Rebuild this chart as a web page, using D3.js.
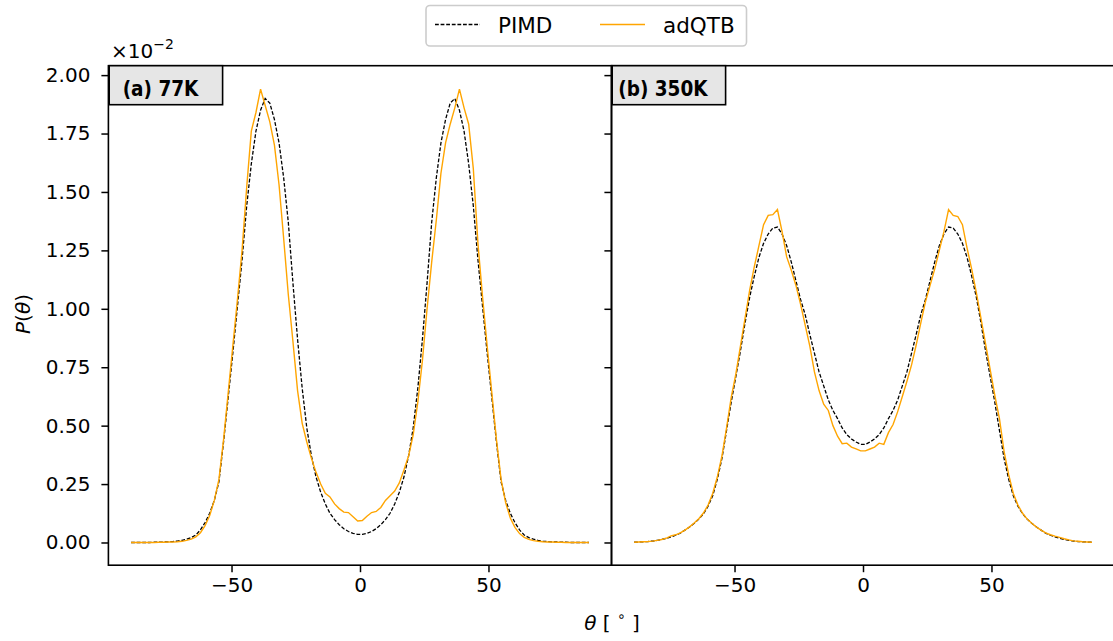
<!DOCTYPE html>
<html><head><meta charset="utf-8">
<script src="https://cdn.jsdelivr.net/npm/d3@7"></script>
<style>
body{margin:0;background:#fff}
svg{font-family:"DejaVu Sans",sans-serif}
</style>
</head><body>
<svg id="chart" width="1113" height="641"></svg>
<script>
// ---- data (values in units of 1e-2) ----
const theta = [-89.1,-87.3,-85.5,-83.7,-81.9,-80.1,-78.3,-76.5,-74.7,-72.9,-71.1,-69.3,-67.5,-65.7,-63.9,-62.1,-60.3,-58.5,-56.7,-54.9,-53.1,-51.3,-49.5,-47.7,-45.9,-44.1,-42.3,-40.5,-38.7,-36.9,-35.1,-33.3,-31.5,-29.7,-27.9,-26.1,-24.3,-22.5,-20.7,-18.9,-17.1,-15.3,-13.5,-11.7,-9.9,-8.1,-6.3,-4.5,-2.7,-0.9,0.9,2.7,4.5,6.3,8.1,9.9,11.7,13.5,15.3,17.1,18.9,20.7,22.5,24.3,26.1,27.9,29.7,31.5,33.3,35.1,36.9,38.7,40.5,42.3,44.1,45.9,47.7,49.5,51.3,53.1,54.9,56.7,58.5,60.3,62.1,63.9,65.7,67.5,69.3,71.1,72.9,74.7,76.5,78.3,80.1,81.9,83.7,85.5,87.3,89.1];

const pimd77 = [0,0,0,0,0,0.001,0.001,0.002,0.003,0.004,0.006,0.009,0.014,0.021,0.032,0.054,0.085,0.125,0.18,0.26,0.43,0.62,0.81,1.01,1.21,1.44,1.62,1.76,1.85,1.90,1.88,1.81,1.71,1.56,1.37,1.11,0.87,0.66,0.49,0.37,0.28,0.215,0.165,0.125,0.098,0.076,0.059,0.047,0.039,0.035,
0.035,0.039,0.047,0.059,0.076,0.098,0.125,0.165,0.215,0.28,0.37,0.49,0.66,0.87,1.11,1.37,1.56,1.71,1.81,1.88,1.90,1.85,1.76,1.62,1.44,1.21,1.01,0.81,0.62,0.43,0.26,0.18,0.125,0.085,0.054,0.032,0.021,0.014,0.009,0.006,0.004,0.003,0.002,0.001,0.001,0,0,0,0,0];

const adqtb77 = [0,0,0,0,0,0,0.001,0.001,0.002,0.002,0.003,0.005,0.009,0.014,0.024,0.042,0.072,0.115,0.18,0.27,0.44,0.64,0.84,1.04,1.25,1.52,1.76,1.84,1.94,1.87,1.80,1.70,1.53,1.30,1.06,0.86,0.65,0.51,0.43,0.36,0.30,0.25,0.21,0.195,0.165,0.145,0.13,0.128,0.11,0.092,
0.094,0.112,0.128,0.133,0.15,0.18,0.20,0.22,0.255,0.31,0.37,0.46,0.60,0.78,1.00,1.20,1.38,1.58,1.71,1.79,1.86,1.94,1.86,1.79,1.60,1.28,1.05,0.84,0.64,0.44,0.27,0.17,0.105,0.065,0.038,0.022,0.013,0.008,0.005,0.003,0.002,0.002,0.001,0.001,0,0,0,0,0,0];

const pimd350 = [0.001,0.002,0.003,0.004,0.006,0.009,0.013,0.018,0.024,0.031,0.040,0.053,0.066,0.082,0.100,0.123,0.155,0.20,0.27,0.36,0.48,0.60,0.71,0.82,0.94,1.05,1.14,1.22,1.28,1.32,1.345,1.35,1.32,1.27,1.20,1.12,1.04,0.975,0.89,0.81,0.73,0.67,0.61,0.565,0.53,0.49,0.462,0.443,0.43,0.42,
0.42,0.43,0.443,0.462,0.49,0.53,0.565,0.61,0.67,0.73,0.81,0.89,0.975,1.04,1.12,1.20,1.27,1.32,1.35,1.345,1.32,1.28,1.22,1.14,1.05,0.94,0.82,0.71,0.60,0.48,0.36,0.27,0.20,0.155,0.123,0.100,0.082,0.066,0.053,0.040,0.031,0.024,0.018,0.013,0.009,0.006,0.004,0.003,0.002,0.001];

const adqtb350 = [0.001,0.002,0.003,0.004,0.006,0.009,0.013,0.019,0.028,0.033,0.041,0.053,0.067,0.083,0.102,0.126,0.16,0.21,0.28,0.37,0.49,0.62,0.72,0.84,0.96,1.08,1.18,1.27,1.36,1.40,1.403,1.425,1.33,1.222,1.165,1.10,1.02,0.93,0.84,0.73,0.65,0.592,0.565,0.50,0.455,0.423,0.425,0.408,0.401,0.392,
0.392,0.400,0.408,0.425,0.42,0.47,0.505,0.56,0.625,0.69,0.76,0.845,0.94,1.03,1.10,1.17,1.25,1.33,1.425,1.40,1.395,1.36,1.26,1.17,1.07,0.96,0.85,0.74,0.63,0.53,0.39,0.29,0.21,0.16,0.125,0.10,0.082,0.066,0.053,0.041,0.033,0.027,0.022,0.016,0.011,0.007,0.005,0.003,0.002,0.001];

const xTicks = [-50, 0, 50];
const yTicks = [0, 0.25, 0.5, 0.75, 1.0, 1.25, 1.5, 1.75, 2.0];
const panelLabels = ["(a) 77K", "(b) 350K"];
const seriesNames = ["PIMD", "adQTB"];

// ---- layout ----
const svg = d3.select("#chart");
const plotTop = 65.7, plotBottom = 565.2;
const panels = [
  {x0: 108.4, x1: 611.6, pimd: pimd77, adqtb: adqtb77, label: panelLabels[0], labelX: 122.7},
  {x0: 611.4, x1: 1114.6, pimd: pimd350, adqtb: adqtb350, label: panelLabels[1], labelX: 618.3}
];
const xDom = [-97.92, 97.92];
const y = d3.scaleLinear().domain([-0.0972, 2.0403]).range([plotBottom, plotTop]);
const orange = "#ffa500";

panels.forEach((p, pi) => {
  const x = d3.scaleLinear().domain(xDom).range([p.x0, p.x1]);
  const g = svg.append("g");
  const line = d3.line().x((d, i) => x(theta[i])).y(d => y(d));

  g.append("path").datum(p.pimd).attr("d", line)
    .attr("fill", "none").attr("stroke", "#000").attr("stroke-width", 1.3)
    .attr("stroke-dasharray", "3.8,1.8");
  g.append("path").datum(p.adqtb).attr("d", line)
    .attr("fill", "none").attr("stroke", orange).attr("stroke-width", 1.4);

  // x axis
  const xa = g.append("g").attr("transform", `translate(0,${plotBottom})`)
    .call(d3.axisBottom(x).tickValues(xTicks).tickSize(7).tickPadding(6));
  xa.select(".domain").remove();
  xa.selectAll("line").attr("stroke-width", 1.5);
  xa.selectAll("text").attr("font-size", 20).attr("font-family", "DejaVu Sans").attr("fill", "#000");

  // y axis
  const ya = g.append("g").attr("transform", `translate(${p.x0},0)`)
    .call(d3.axisLeft(y).tickValues(yTicks).tickSize(7).tickPadding(11).tickFormat(d3.format(".2f")));
  ya.select(".domain").remove();
  ya.selectAll("line").attr("stroke-width", 1.5);
  ya.selectAll("text").attr("font-size", 20).attr("font-family", "DejaVu Sans").attr("fill", "#000");
  if (pi === 1) ya.selectAll("text").remove();

  // frame
  g.append("rect").attr("x", p.x0).attr("y", plotTop)
    .attr("width", p.x1 - p.x0).attr("height", plotBottom - plotTop)
    .attr("fill", "none").attr("stroke", "#000").attr("stroke-width", 1.6);

  // panel label box
  g.append("rect").attr("x", p.x0 + 0.8).attr("y", plotTop)
    .attr("width", 113.4).attr("height", 39)
    .attr("fill", "#e6e6e6").attr("stroke", "#000").attr("stroke-width", 1.6);
  g.append("text").attr("x", p.labelX).attr("y", 96)
    .attr("font-family", "'DejaVu Sans Condensed','DejaVu Sans'")
    .attr("font-stretch", "condensed")
    .attr("font-weight", "bold").attr("font-size", 20.5).text(p.label);
});

// multiplier
const mt = svg.append("text").attr("x", 111).attr("y", 58).attr("font-size", 20);
mt.append("tspan").text("×10");
mt.append("tspan").attr("font-size", 14).attr("dy", -9).text("−2");

// y label
const yl = svg.append("text").attr("transform", "translate(30,314) rotate(-90)")
  .attr("text-anchor", "middle").attr("font-size", 20);
yl.append("tspan").attr("font-style", "italic").text("P");
yl.append("tspan").text("(");
yl.append("tspan").attr("font-style", "italic").text("θ");
yl.append("tspan").text(")");

// x label
const xl = svg.append("text").attr("x", 612).attr("y", 630).attr("text-anchor", "middle").attr("font-size", 20);
xl.append("tspan").attr("font-style", "italic").text("θ");
xl.append("tspan").text(" [ ");
xl.append("tspan").attr("font-size", 14).attr("dy", -9).text("∘");
xl.append("tspan").attr("dy", 9).text(" ]");

// legend
const lg = svg.append("g");
lg.append("rect").attr("x", 426).attr("y", 5.5).attr("width", 320.5).attr("height", 40.5)
  .attr("rx", 4).attr("fill", "#fff").attr("stroke", "#cccccc").attr("stroke-width", 1.6);
lg.append("line").attr("x1", 435).attr("x2", 480).attr("y1", 24.5).attr("y2", 24.5)
  .attr("stroke", "#000").attr("stroke-width", 1.3).attr("stroke-dasharray", "3.8,1.8");
lg.append("text").attr("x", 498).attr("y", 32.5).attr("font-size", 21.5).text(seriesNames[0]);
lg.append("line").attr("x1", 600).attr("x2", 645).attr("y1", 24.5).attr("y2", 24.5)
  .attr("stroke", orange).attr("stroke-width", 1.4);
lg.append("text").attr("x", 663).attr("y", 32.5).attr("font-size", 21.5).text(seriesNames[1]);
</script>
</body></html>
